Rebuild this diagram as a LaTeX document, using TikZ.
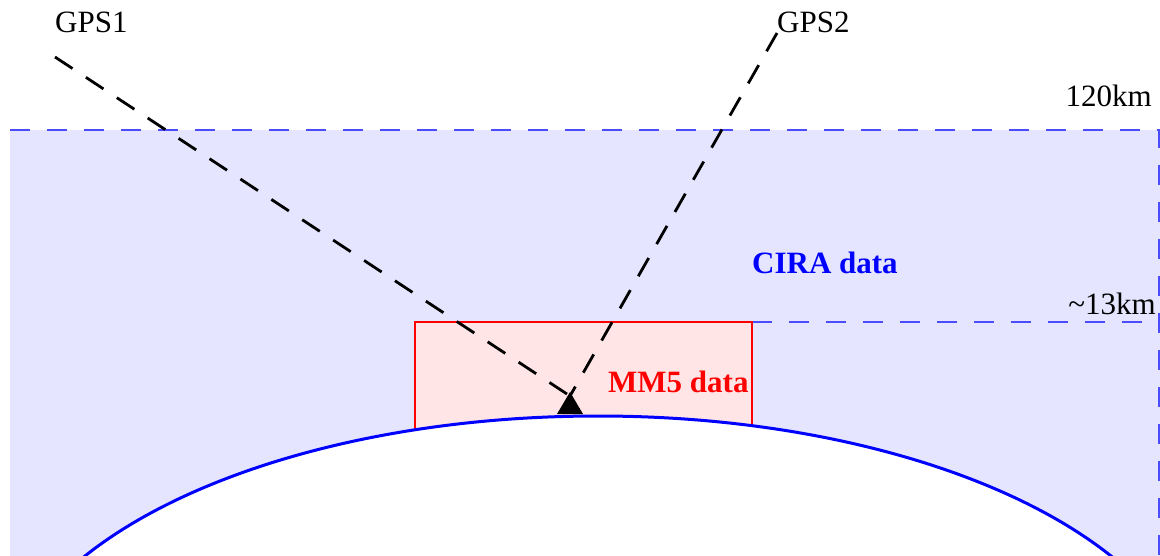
\documentclass[tikz,border=0pt]{standalone}
\usepackage{fontspec}
\setmainfont{Liberation Serif}
\begin{document}
\begin{tikzpicture}[x=1pt,y=-1pt,
  lbl/.style={font=\fontsize{31}{36}\selectfont, inner sep=0pt},
  blbl/.style={font=\fontsize{31}{36}\selectfont\bfseries, inner sep=0pt},
  ray/.style={black, line width=2.8pt, dash pattern=on 21pt off 16pt},
  lvl/.style={blue!70, line width=2pt, dash pattern=on 20pt off 17pt}]
\useasboundingbox (0,0) rectangle (1160,556);
% atmosphere
\fill[blue!10] (10,130) rectangle (1160,556);
\draw[lvl] (10,130) -- (1159,130) -- (1159,556);
\draw[lvl] (752,322) -- (1159,322);
% MM5 box
\draw[red, fill=red!10, line width=2.4pt] (415,322) rectangle (752,470);
% Earth
\draw[blue, fill=white, line width=3pt] (598,707) ellipse [x radius=600, y radius=291];
% receiver
\coordinate (rx) at (570,396);
\fill[black] (570,392) -- (583,414) -- (557,414) -- cycle;
% labels
\node[lbl, anchor=base west] (gps1) at (55,33) {GPS1};
\node[lbl, anchor=base west] (gps2) at (777,33) {GPS2};
\node[lbl, anchor=base east] (h120) at (1152,107) {120km};
\node[lbl, anchor=base east] (h13) at (1156,314) {\textasciitilde13km};
\node[blbl, blue, anchor=base west] (cira) at (752,273) {CIRA data};
\node[blbl, red, anchor=base west] (mm5) at (608,392) {MM5 data};
% rays
\coordinate (g1) at (55,57);
\coordinate (g2) at (777,33);
\draw[ray] (g1) -- (rx);
\draw[ray] (g2) -- (rx);
\end{tikzpicture}
\end{document}
